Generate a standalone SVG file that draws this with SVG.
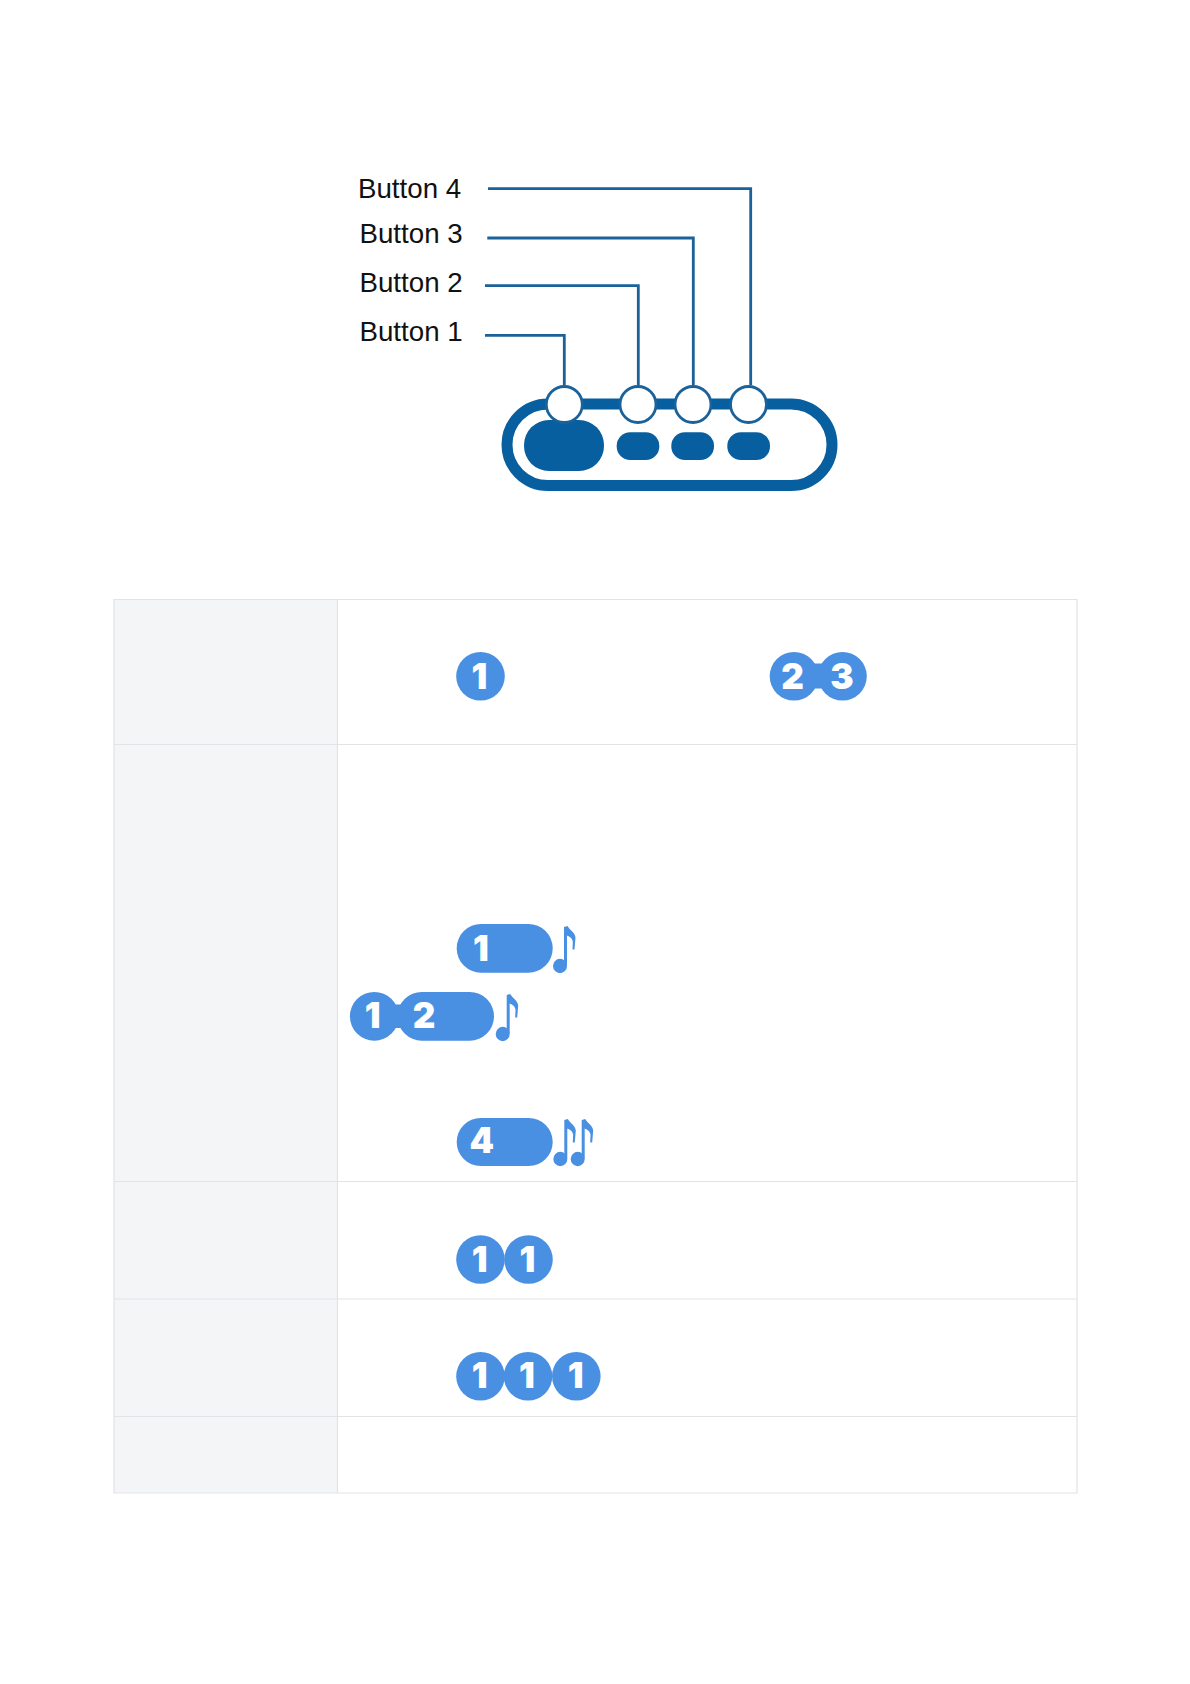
<svg xmlns="http://www.w3.org/2000/svg" width="1190" height="1684" viewBox="0 0 1190 1684">
<style>
.lbl{font-family:"Liberation Sans",Arial,sans-serif;font-size:27.700px;fill:#111}
.wire{fill:none;stroke:#1a6299;stroke-width:2.800}
.dev{fill:#075f9f}
.ring{fill:#fff;stroke:#1a6299;stroke-width:2.800}
.head{fill:#4a90e2}
.cell{fill:#f3f5f7}
.grid{stroke:#e1e3e7;stroke-width:1.200;fill:none}
.d{font-family:Inter,"Liberation Sans",sans-serif;font-weight:900;font-size:35px;fill:#fff;text-anchor:middle}
</style>
<defs>
<g id="note" class="head">
<ellipse cx="7" cy="41.500" rx="7" ry="7.200"/>
<path d="M11 41V2.500L14.500 1.500C17 6 22 8 22.500 13L21.500 25H19.500L19.800 17C19 13 16 12 14 11V41Z"/>
</g>
</defs>
<rect width="1190" height="1684" fill="#fff"/>

<g id="table">
<rect class="cell" x="114" y="599.500" width="223.500" height="893.500"/>
<path class="grid" d="M114 599.500H1077V1493H114ZM337.500 599.500V1493M114 744.500H1077M114 1181.500H1077M114 1299H1077M114 1416.500H1077"/>
</g>

<g id="device">
<rect x="507" y="404" width="325" height="81.500" rx="41" fill="none" stroke="#075f9f" stroke-width="11"/>
<rect class="dev" x="524" y="420" width="80" height="51" rx="25"/>
<rect class="dev" x="616.700" y="432.300" width="42.600" height="27.700" rx="13.500"/>
<rect class="dev" x="671.300" y="432.300" width="42.700" height="27.700" rx="13.500"/>
<rect class="dev" x="727.300" y="432.300" width="42.700" height="27.700" rx="13.500"/>
</g>

<g id="connectors">
<path class="wire" d="M485 335.300H564.300V385"/>
<path class="wire" d="M485 285.700H638.300V385"/>
<path class="wire" d="M487.300 238H693.300V385"/>
<path class="wire" d="M488 188.700H750.700V385"/>
</g>

<g id="button-1"><text class="lbl" x="359.500" y="341">Button 1</text><circle class="ring" cx="564.300" cy="404.500" r="18"/></g>
<g id="button-2"><text class="lbl" x="359.500" y="292">Button 2</text><circle class="ring" cx="638" cy="404.500" r="18"/></g>
<g id="button-3"><text class="lbl" x="359.500" y="242.700">Button 3</text><circle class="ring" cx="693" cy="404.500" r="18"/></g>
<g id="button-4"><text class="lbl" x="358" y="198.300">Button 4</text><circle class="ring" cx="748.500" cy="404.500" r="18"/></g>

<g id="badge-1"><circle class="head" cx="480.500" cy="676.200" r="24.300"/><text class="d" x="479.500" y="689">1</text></g>
<g id="badge-2-3">
<circle class="head" cx="794" cy="676.200" r="24.300"/><circle class="head" cx="842.500" cy="676.200" r="24.300"/>
<rect class="head" x="805" y="663.500" width="25" height="25"/>
<text class="d" x="792.500" y="689">2</text><text class="d" x="842" y="689">3</text>
</g>
<g id="badge-hold-1">
<rect class="head" x="456.700" y="924" width="96" height="48.700" rx="24.300"/>
<text class="d" x="481" y="960.700">1</text>
<use href="#note" x="553" y="924.500"/>
</g>
<g id="badge-hold-1-2">
<circle class="head" cx="374.300" cy="1016.300" r="24.400"/>
<rect class="head" x="397.500" y="992" width="96.500" height="48.700" rx="24.300"/>
<rect class="head" x="385" y="1004.500" width="25" height="23.500"/>
<text class="d" x="372.700" y="1028">1</text><text class="d" x="424" y="1028">2</text>
<use href="#note" x="495.700" y="992.500"/>
</g>
<g id="badge-hold-4">
<rect class="head" x="456.700" y="1118" width="96" height="48" rx="24"/>
<text class="d" x="481.700" y="1152.700">4</text>
<use href="#note" x="553.300" y="1117.500"/><use href="#note" x="570.700" y="1117.500"/>
</g>
<g id="badge-1-1">
<circle class="head" cx="480.500" cy="1259.500" r="24.300"/><circle class="head" cx="528.500" cy="1259.500" r="24.300"/>
<text class="d" x="479.600" y="1271.700">1</text><text class="d" x="527.500" y="1271.700">1</text>
</g>
<g id="badge-1-1-1">
<circle class="head" cx="480.500" cy="1376.300" r="24.300"/><circle class="head" cx="528" cy="1376.300" r="24.300"/><circle class="head" cx="576.300" cy="1376.300" r="24.300"/>
<text class="d" x="479.600" y="1388">1</text><text class="d" x="527" y="1388">1</text><text class="d" x="575.700" y="1388">1</text>
</g>
</svg>
